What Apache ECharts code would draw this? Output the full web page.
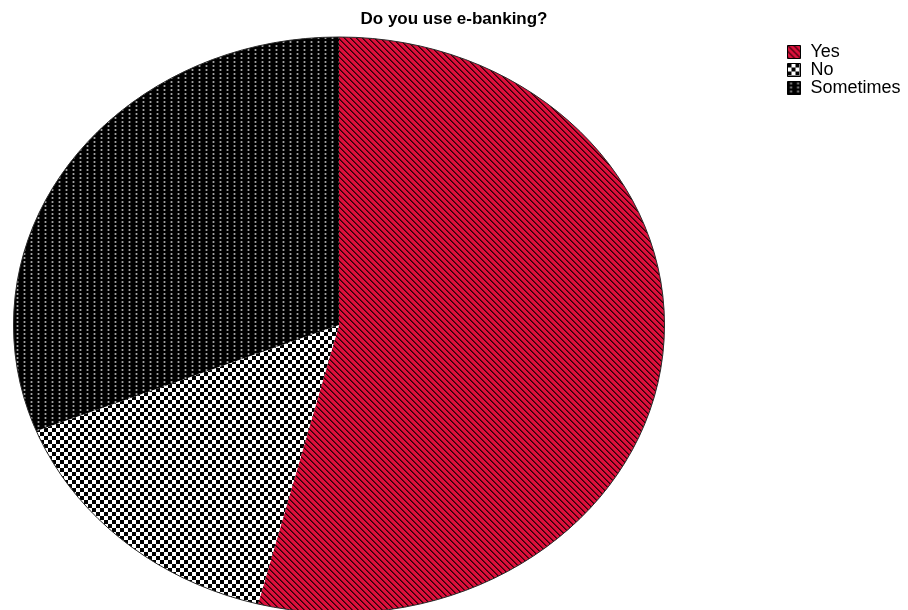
<!DOCTYPE html>
<html>
<head>
<meta charset="utf-8">
<script src="https://cdn.jsdelivr.net/npm/echarts@6/dist/echarts.min.js"></script>
<style>
  html, body { margin: 0; padding: 0; background: #ffffff; }
  #chart { width: 908px; height: 610px; }
</style>
</head>
<body>
<div id="chart"></div>
<script>
// Answers to the survey question, share of respondents (%)
const categories = ['Yes', 'No', 'Sometimes'];
const shares = [54, 15, 31];
const chartTitle = 'Do you use e-banking?';

// Hatch fills for each answer
function makeTile(w, h, paint) {
  const c = document.createElement('canvas');
  c.width = w; c.height = h;
  const g = c.getContext('2d');
  paint(g, w, h);
  return { image: c, repeat: 'repeat' };
}

const stripeFill = makeTile(6, 6, (g, w, h) => {
  g.fillStyle = '#dc103c';
  g.fillRect(0, 0, w, h);
  for (let y = 0; y < h; y++) {
    for (let x = 0; x < w; x++) {
      const d = ((x - y) % w + w) % w;
      if (d === 0) { g.fillStyle = '#2e0008'; g.fillRect(x, y, 1, 1); }
      else if (d === 1) { g.fillStyle = '#6e0719'; g.fillRect(x, y, 1, 1); }
    }
  }
});

const checkerFill = makeTile(8, 8, (g, w, h) => {
  g.fillStyle = '#ffffff';
  g.fillRect(0, 0, w, h);
  g.fillStyle = '#000000';
  g.fillRect(0, 0, 4, 4);
  g.fillRect(4, 4, 4, 4);
});

const dotFill = makeTile(7, 4, (g, w, h) => {
  g.fillStyle = '#000000';
  g.fillRect(0, 0, w, h);
  g.fillStyle = '#3c3c3c';
  g.fillRect(2, 1, 1, 2);
  g.fillRect(4, 1, 1, 2);
  g.fillStyle = '#a0a0a0';
  g.fillRect(3, 1, 1, 2);
});

const fills = [stripeFill, checkerFill, dotFill];

// Elliptical pie layout
const pie = { cx: 339, cy: 325, rx: 325.5, ry: 288 };

const total = shares.reduce((a, b) => a + b, 0);
const starts = [];
let acc = 0;
shares.forEach(v => { starts.push(acc); acc += v; });

function slicePoints(from, to) {
  const a0 = from / total * Math.PI * 2;
  const a1 = to / total * Math.PI * 2;
  const steps = Math.max(8, Math.ceil((a1 - a0) / (Math.PI / 720)));
  const pts = [[pie.cx, pie.cy]];
  for (let i = 0; i <= steps; i++) {
    const a = a0 + (a1 - a0) * i / steps;
    pts.push([pie.cx + pie.rx * Math.sin(a), pie.cy - pie.ry * Math.cos(a)]);
  }
  return pts;
}

const series = categories.map((name, i) => ({
  type: 'custom',
  name: name,
  coordinateSystem: 'none',
  itemStyle: { color: fills[i] },
  data: [[starts[i], starts[i] + shares[i]]],
  renderItem: (params, api) => ({
    type: 'polygon',
    shape: { points: slicePoints(api.value(0), api.value(1)) },
    style: { fill: fills[i], stroke: null }
  })
}));

const chart = echarts.init(document.getElementById('chart'), null, { renderer: 'canvas' });
chart.setOption({
  backgroundColor: '#ffffff',
  animation: false,
  title: {
    text: chartTitle,
    left: 'center',
    top: 11,
    padding: 0,
    textStyle: {
      fontFamily: 'Liberation Sans, Arial, sans-serif',
      fontSize: 17,
      fontWeight: 'bold',
      color: '#000000'
    }
  },
  legend: {
    data: categories,
    orient: 'vertical',
    left: 787,
    top: 43,
    padding: 0,
    itemWidth: 13,
    itemHeight: 13,
    itemGap: 0,
    icon: 'rect',
    selectedMode: false,
    itemStyle: { borderColor: '#000000', borderWidth: 1 },
    textStyle: {
      fontFamily: 'Liberation Sans, Arial, sans-serif',
      fontSize: 18,
      lineHeight: 18,
      color: '#000000',
      padding: [0, 0, 0, 5]
    }
  },
  graphic: [{
    type: 'ellipse',
    z: 100,
    silent: true,
    shape: { cx: pie.cx, cy: pie.cy, rx: pie.rx, ry: pie.ry },
    style: { fill: null, stroke: '#2a2a2a', lineWidth: 1 }
  }],
  series: series
});
</script>
</body>
</html>
